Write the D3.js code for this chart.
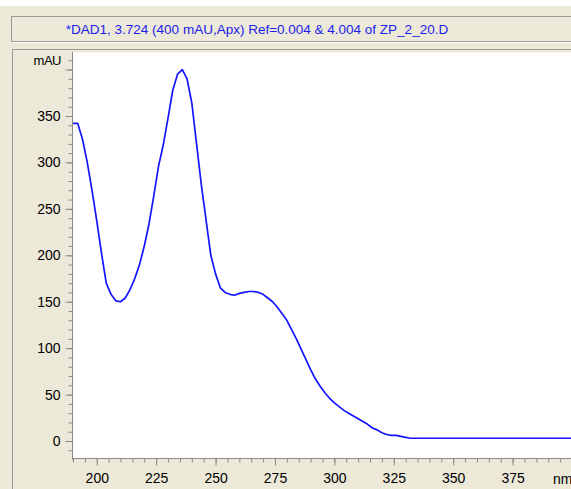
<!DOCTYPE html>
<html>
<head>
<meta charset="utf-8">
<script src="https://cdn.jsdelivr.net/npm/d3@7"></script>
<style>
  body { margin: 0; background: #ece9d8; }
  svg { display: block; }
  text { font-family: "Liberation Sans", Arial, sans-serif; }
</style>
</head>
<body>
<svg id="chart"></svg>
<script>
// spectrum (nm / mAU)
var wavelength = [190, 192, 194, 196, 198, 200, 202, 204, 206, 208, 210, 212, 214, 216, 218,
  220, 222, 224, 226, 228, 230, 232, 234, 236, 238, 240, 242, 244, 246, 248, 250,
  252, 254, 256, 258, 260, 262, 264, 266, 268, 270, 272, 274, 276, 278, 280,
  282, 284, 286, 288, 290, 292, 294, 296, 298, 300, 302, 304, 306, 308, 310,
  312, 314, 316, 318, 320, 322, 324, 326, 328, 330, 332, 340, 360, 380, 400];
var absorbance = [342, 342, 325, 300, 270, 237, 202, 170, 158, 151, 150, 154, 163, 175, 190,
  210, 234, 264, 296, 319, 348, 378, 395, 400, 390, 364, 320, 276, 238, 200, 180,
  165, 160, 158, 157, 159, 160, 161, 161, 160, 158, 154, 150, 144, 137, 130,
  120, 110, 99, 88, 77, 67, 59, 52, 46, 41, 37, 33, 30, 27, 24,
  21, 18, 14, 12, 9, 7, 6, 6, 5, 4, 3, 3, 3, 3, 3];

var yMajor = [0, 50, 100, 150, 200, 250, 300, 350, 400];
var yLabels = ["0", "50", "100", "150", "200", "250", "300", "350", ""];
var xMajor = [200, 225, 250, 275, 300, 325, 350, 375, 400];
var xLabels = ["200", "225", "250", "275", "300", "325", "350", "375", ""];
var titleText = "*DAD1, 3.724 (400 mAU,Apx) Ref=0.004 & 4.004 of ZP_2_20.D";

var W = 571, H = 489;
var svg = d3.select("#chart").attr("width", W).attr("height", H);

var x = d3.scaleLinear().domain([190, 400]).range([73, 572]);
var y = d3.scaleLinear().domain([-20, 420]).range([459.6, 51]);

// background pieces
svg.append("rect").attr("x", 0).attr("y", 0).attr("width", W).attr("height", H).attr("fill", "#ece9d8");
svg.append("rect").attr("x", 0).attr("y", 0).attr("width", W).attr("height", 6).attr("fill", "#ffffff");

// title box
svg.append("rect")
  .attr("x", 11.5).attr("y", 16.5).attr("width", W).attr("height", 25)
  .attr("fill", "#ece9d8").attr("stroke", "#9d9b8f");
svg.append("line")
  .attr("x1", 12).attr("x2", W).attr("y1", 42.5).attr("y2", 42.5)
  .attr("stroke", "#ffffff");
svg.append("text")
  .attr("x", 257).attr("y", 34)
  .attr("text-anchor", "middle")
  .attr("font-size", "13.5px")
  .attr("fill", "#1c1cf0")
  .text(titleText);

// chart panel border
svg.append("path")
  .attr("d", "M12.5," + H + "V49.5H" + W)
  .attr("fill", "none").attr("stroke", "#9d9b8f");

// white plot area
svg.append("rect")
  .attr("x", x(190)).attr("y", y(420) + 1.5)
  .attr("width", W - x(190)).attr("height", y(-20) - y(420) - 2)
  .attr("fill", "#ffffff");

// y axis: minor then major ticks
var yMinor = d3.range(-10, 411, 10);
svg.append("g")
  .attr("transform", "translate(72.5,0)")
  .call(d3.axisLeft(y).tickValues(yMinor).tickSize(4).tickFormat(""))
  .call(function (g) {
    g.select(".domain").attr("stroke", "#8a8a8a").attr("d", "M0," + (y(420) + 1) + "V" + y(-20));
    g.selectAll("line").attr("stroke", "#8a8a8a");
  });
svg.append("g")
  .attr("transform", "translate(72.5,0)")
  .call(d3.axisLeft(y).tickValues(yMajor).tickSize(7).tickPadding(5)
    .tickFormat(function (d, i) { return yLabels[i]; }))
  .call(function (g) {
    g.select(".domain").remove();
    g.selectAll("line").attr("stroke", "#8a8a8a");
    g.selectAll("text").attr("font-size", "14px").attr("fill", "#000")
      .attr("font-family", "Liberation Sans, Arial, sans-serif");
  });
svg.append("text")
  .attr("x", 61).attr("y", y(410)).attr("dy", "0.36em")
  .attr("text-anchor", "end")
  .attr("font-size", "13px")
  .attr("letter-spacing", "-0.5px")
  .text("mAU");

// x axis: minor then major ticks
var xMinor = d3.range(190, 401, 5);
var axisY = 458.5;
svg.append("g")
  .attr("transform", "translate(0," + axisY + ")")
  .call(d3.axisBottom(x).tickValues(xMinor).tickSize(4).tickFormat(""))
  .call(function (g) {
    g.select(".domain").attr("stroke", "#8a8a8a").attr("d", "M" + x(190) + ",0H" + W);
    g.selectAll("line").attr("stroke", "#8a8a8a");
  });
svg.append("g")
  .attr("transform", "translate(0," + axisY + ")")
  .call(d3.axisBottom(x).tickValues(xMajor).tickSize(7).tickPadding(8)
    .tickFormat(function (d, i) { return xLabels[i]; }))
  .call(function (g) {
    g.select(".domain").remove();
    g.selectAll("line").attr("stroke", "#8a8a8a");
    g.selectAll("text").attr("font-size", "14px").attr("fill", "#000")
      .attr("font-family", "Liberation Sans, Arial, sans-serif");
  });
svg.append("text")
  .attr("x", 553).attr("y", 484)
  .attr("font-size", "14px")
  .text("nm");

// spectrum
var pts = wavelength.map(function (w, i) { return [w, absorbance[i]]; });
var line = d3.line()
  .x(function (d) { return x(d[0]); })
  .y(function (d) { return y(d[1]); });
svg.append("path")
  .datum(pts)
  .attr("d", line)
  .attr("fill", "none")
  .attr("stroke", "#1414ff")
  .attr("stroke-width", 1.7)
  .attr("stroke-linejoin", "round");
</script>
</body>
</html>
